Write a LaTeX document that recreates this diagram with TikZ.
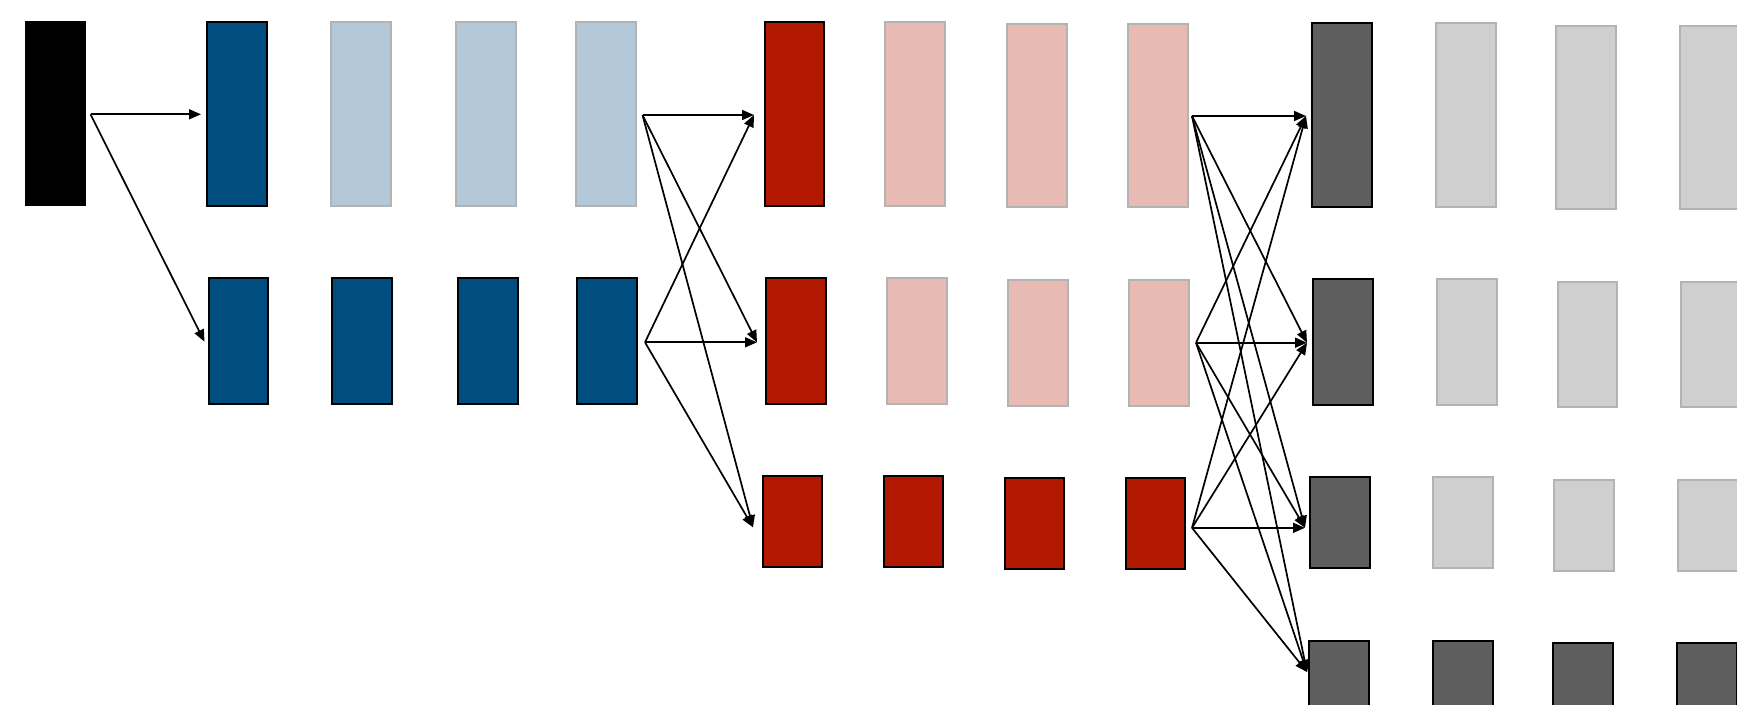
\documentclass[tikz,border=0pt]{standalone}
\usetikzlibrary{arrows.meta,fit}
\definecolor{dkblue}{RGB}{0,78,127}
\definecolor{ltblue}{RGB}{179,201,217}
\definecolor{dkred}{RGB}{179,25,0}
\definecolor{ltred}{RGB}{232,186,180}
\definecolor{dkgray}{RGB}{94,94,94}
\definecolor{ltgray}{RGB}{207,207,207}
\definecolor{ltborder}{RGB}{179,179,179}
\tikzset{
  boxbase/.style={inner sep=-1pt, outer sep=0pt, line width=2pt},
  blk/.style={boxbase, fill=black, draw=black},
  bdark/.style={boxbase, fill=dkblue, draw=black},
  blight/.style={boxbase, fill=ltblue, draw=ltborder},
  rdark/.style={boxbase, fill=dkred, draw=black},
  rlight/.style={boxbase, fill=ltred, draw=ltborder},
  gdark/.style={boxbase, fill=dkgray, draw=black},
  glight/.style={boxbase, fill=ltgray, draw=ltborder},
  conn/.style={line width=1.7pt, -{Triangle[length=12pt,width=10pt]}},
}
\begin{document}
\begin{tikzpicture}[x=1pt,y=-1pt]
\useasboundingbox (0,0) rectangle (1737,704);
\clip (0,0) rectangle (1737,704);
% input
\node[blk, fit={(25,21) (86,206)}] (k) {};
% blue column
\node[bdark,  fit={(206,21) (268,207)}] (a11) {};
\node[blight, fit={(330,21) (392,207)}] (a12) {};
\node[blight, fit={(455,21) (517,207)}] (a13) {};
\node[blight, fit={(575,21) (637,207)}] (a14) {};
\node[bdark, fit={(208,277) (269,405)}] (a21) {};
\node[bdark, fit={(331,277) (393,405)}] (a22) {};
\node[bdark, fit={(457,277) (519,405)}] (a23) {};
\node[bdark, fit={(576,277) (638,405)}] (a24) {};
% red column
\node[rdark,  fit={(764,21) (825,207)}] (b11) {};
\node[rlight, fit={(884,21) (946,207)}] (b12) {};
\node[rlight, fit={(1006,23) (1068,208)}] (b13) {};
\node[rlight, fit={(1127,23) (1189,208)}] (b14) {};
\node[rdark,  fit={(765,277) (827,405)}] (b21) {};
\node[rlight, fit={(886,277) (948,405)}] (b22) {};
\node[rlight, fit={(1007,279) (1069,407)}] (b23) {};
\node[rlight, fit={(1128,279) (1190,407)}] (b24) {};
\node[rdark, fit={(762,475) (823,568)}] (b31) {};
\node[rdark, fit={(883,475) (944,568)}] (b32) {};
\node[rdark, fit={(1004,477) (1065,570)}] (b33) {};
\node[rdark, fit={(1125,477) (1186,570)}] (b34) {};
% gray column
\node[gdark,  fit={(1311,22) (1373,208)}] (c11) {};
\node[glight, fit={(1435,22) (1497,208)}] (c12) {};
\node[glight, fit={(1555,25) (1617,210)}] (c13) {};
\node[glight, fit={(1679,25) (1741,210)}] (c14) {};
\node[gdark,  fit={(1312,278) (1374,406)}] (c21) {};
\node[glight, fit={(1436,278) (1498,406)}] (c22) {};
\node[glight, fit={(1557,281) (1618,408)}] (c23) {};
\node[glight, fit={(1680,281) (1742,408)}] (c24) {};
\node[gdark,  fit={(1309,476) (1371,569)}] (c31) {};
\node[glight, fit={(1432,476) (1494,569)}] (c32) {};
\node[glight, fit={(1553,479) (1615,572)}] (c33) {};
\node[glight, fit={(1677,479) (1739,572)}] (c34) {};
\node[gdark, fit={(1308,640) (1370,733)}] (c41) {};
\node[gdark, fit={(1432,640) (1494,733)}] (c42) {};
\node[gdark, fit={(1552,642) (1614,735)}] (c43) {};
\node[gdark, fit={(1676,642) (1738,735)}] (c44) {};
% ports
\coordinate (ko)   at (90.5,114.3);
\coordinate (a11i) at (201,114.3);
\coordinate (a21i) at (204.5,341.7);
\coordinate (a14o) at (642.5,115);
\coordinate (a24o) at (645,342.3);
\coordinate (b11i) at (754,115);
\coordinate (b21i) at (757,342.3);
\coordinate (b31i) at (753,527.3);
\coordinate (b14o) at (1192,116);
\coordinate (b24o) at (1196,342.7);
\coordinate (b34o) at (1192,527.8);
\coordinate (c11i) at (1306,116);
\coordinate (c21i) at (1307,342.7);
\coordinate (c31i) at (1305,527.8);
\coordinate (c41i) at (1307,672);
% connectors
\draw[conn] (ko) -- (a11i);
\draw[conn] (ko) -- (a21i);
\foreach \s in {a14o,a24o}{
  \foreach \t in {b11i,b21i,b31i}{
    \draw[conn] (\s) -- (\t);
  }
}
\foreach \s in {b14o,b24o,b34o}{
  \foreach \t in {c11i,c21i,c31i,c41i}{
    \draw[conn] (\s) -- (\t);
  }
}
\end{tikzpicture}
\end{document}
